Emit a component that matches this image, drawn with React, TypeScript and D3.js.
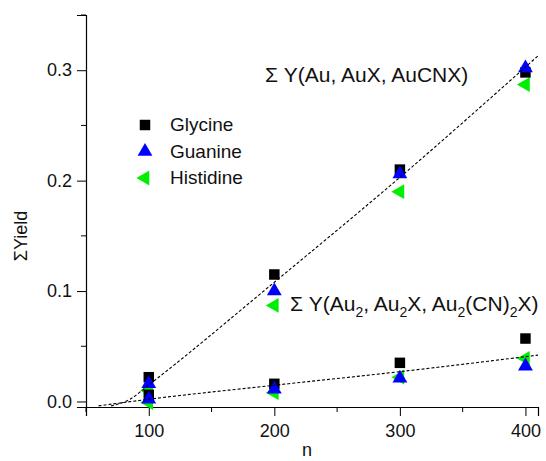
import React, { useEffect, useRef } from 'react'
import { select, scaleLinear, axisBottom, axisLeft, symbol, symbolSquare, symbolTriangle, line, curveMonotoneX, format } from 'd3'

// n values shared by every series
const nValues = [100, 200, 300, 400]

// ΣY(Au, AuX, AuCNX)
const glycineBig = [0.022, 0.115, 0.210, 0.298]
const guanineBig = [0.016, 0.100, 0.206, 0.302]
const histidineBig = [0.010, 0.087, 0.190, 0.287]

// ΣY(Au2, Au2X, Au2(CN)2X)
const glycineSmall = [0.006, 0.016, 0.035, 0.057]
const guanineSmall = [0.002, 0.011, 0.021, 0.032]
const histidineSmall = [-0.001, 0.008, 0.022, 0.039]

// dashed fit lines
const bigFitN = [70, 85, 100, 200, 300, 410]
const bigFitY = [-0.004, 0.002, 0.015, 0.108, 0.203, 0.313]
const smallFitN = [60, 100, 200, 300, 410]
const smallFitY = [-0.004, 0.002, 0.0147, 0.027, 0.042]

const xMajor = [100, 200, 300, 400]
const xMinor = [50, 150, 250, 350]
const yMajor = [0, 0.1, 0.2, 0.3]
const yMinor = [0.05, 0.15, 0.25, 0.35]

const legendNames = ['Glycine', 'Guanine', 'Histidine']

const FONT = '"Liberation Sans", Arial, sans-serif'

function App() {
    const ref = useRef<SVGSVGElement>(null)

    useEffect(() => {
        const svg = select(ref.current)
        svg.selectAll('*').remove()

        const x = scaleLinear().domain([50, 410]).range([86, 538])
        const y = scaleLinear().domain([-0.005, 0.35]).range([407, 15])

        // axes
        const xAx = svg.append('g').attr('transform', 'translate(0,407)')
        xAx.call(axisBottom(x).tickValues(xMajor).tickSize(9).tickPadding(8).tickFormat(format('d')) as any)
        xAx.append('g').selectAll('line').data(xMinor).join('line')
            .attr('x1', d => x(d)).attr('x2', d => x(d)).attr('y1', 0).attr('y2', 5)
            .attr('stroke', '#000')

        const yAx = svg.append('g').attr('transform', 'translate(86,0)')
        yAx.call(axisLeft(y).tickValues(yMajor).tickSize(9).tickPadding(5).tickFormat(format('.1f')) as any)
        yAx.append('g').selectAll('line').data(yMinor).join('line')
            .attr('y1', d => y(d)).attr('y2', d => y(d)).attr('x1', 0).attr('x2', -5)
            .attr('stroke', '#000')

        svg.selectAll('.domain').attr('stroke', '#000').attr('stroke-width', 1.2)
        svg.selectAll('.tick text').attr('font-family', FONT).attr('font-size', 18).attr('fill', '#111')

        // markers
        const square = symbol().type(symbolSquare).size(110)()
        const tri = symbol().type(symbolTriangle).size(95)()

        const series = [
            { vals: [histidineBig, histidineSmall], path: tri, fill: '#00ee00', rot: -90 },
            { vals: [glycineBig, glycineSmall], path: square, fill: '#000', rot: 0 },
            { vals: [guanineBig, guanineSmall], path: tri, fill: '#0000ff', rot: 0 },
        ]
        series.forEach(s => {
            s.vals.forEach(v => {
                svg.append('g').selectAll('path').data(v).join('path')
                    .attr('d', s.path)
                    .attr('fill', s.fill)
                    .attr('transform', (d, i) => `translate(${x(nValues[i])},${y(d)}) rotate(${s.rot})`)
            })
        })

        // fit lines
        const drawFit = (ns: number[], ys: number[]) => {
            const pts = ns.map((n, i) => [x(n), y(ys[i])] as [number, number])
            svg.append('path')
                .attr('d', line().curve(curveMonotoneX)(pts))
                .attr('fill', 'none').attr('stroke', '#000').attr('stroke-width', 1.1)
                .attr('stroke-dasharray', '3,2')
        }
        drawFit(bigFitN, bigFitY)
        drawFit(smallFitN, smallFitY)

        // legend
        const leg = svg.append('g')
        legendNames.forEach((name, i) => {
            const cy = 125 + i * 26.5
            const s = [series[1], series[2], series[0]][i]
            leg.append('path').attr('d', s.path).attr('fill', s.fill)
                .attr('transform', `translate(145,${cy}) rotate(${s.rot})`)
            leg.append('text').attr('x', 170).attr('y', cy + 6).text(name)
                .attr('font-family', FONT).attr('font-size', 19).attr('fill', '#111')
        })

        // annotations
        svg.append('text').attr('x', 265).attr('y', 82)
            .attr('font-family', FONT).attr('font-size', 21).attr('fill', '#111')
            .text('Σ Y(Au, AuX, AuCNX)')

        const small = svg.append('text').attr('x', 290).attr('y', 311)
            .attr('font-family', FONT).attr('font-size', 21).attr('fill', '#111')
        const parts: [string, boolean][] = [['Σ Y(Au', false], ['2', true], [', Au', false], ['2', true], ['X, Au', false], ['2', true], ['(CN)', false], ['2', true], ['X)', false]]
        parts.forEach(([t, sub], i) => {
            const prevSub = i > 0 && parts[i - 1][1]
            small.append('tspan').text(t)
                .attr('font-size', sub ? 14 : 21)
                .attr('dy', sub ? 6 : prevSub ? -6 : 0)
        })

        // axis titles
        svg.append('text').attr('x', 307).attr('y', 456).attr('text-anchor', 'middle')
            .attr('font-family', FONT).attr('font-size', 18).attr('fill', '#111').text('n')
        svg.append('text').attr('transform', 'translate(27,236) rotate(-90)').attr('text-anchor', 'middle')
            .attr('font-family', FONT).attr('font-size', 18).attr('fill', '#111').text('ΣYield')
    }, [])

    return (
        <div>
            <svg ref={ref} width={546} height={461} style={{ position: 'absolute', left: 0, top: 0, background: '#fff' }} />
        </div>
    )
}

export default App
